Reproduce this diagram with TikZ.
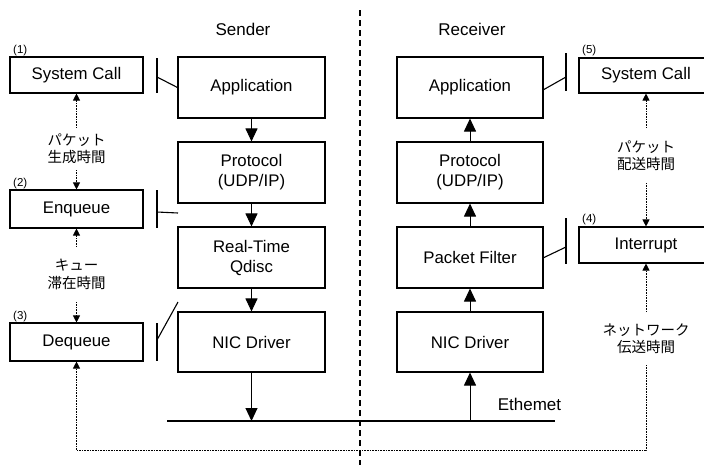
\documentclass[tikz,border=0pt]{standalone}
\usepackage{fontspec}
\setmainfont{Liberation Sans}
\newfontfamily\jpfont{Noto Sans CJK JP}
\usetikzlibrary{arrows.meta}
\begin{document}
\begin{tikzpicture}[x=1pt,y=-1pt,
  box/.style={draw, line width=1.1pt, inner sep=0pt, align=center, font=\fontsize{16.8}{20}\selectfont},
  flow/.style={line width=1pt, -{Triangle[length=13pt,width=12pt]}},
  tick/.style={line width=1.1pt},
  note/.style={inner sep=0pt, align=center, font=\jpfont\fontsize{14.5}{17.5}\selectfont},
  dotarrow/.style={line width=0.8pt, dash pattern=on 0.8pt off 0.8pt, -{Triangle[length=7pt,width=7pt]}},
  num/.style={inner sep=0pt, font=\fontsize{11.5}{12}\selectfont},
  title/.style={inner sep=0pt, font=\fontsize{17}{20}\selectfont}]
\useasboundingbox (0,0) rectangle (704,464);
\clip (0,0) rectangle (704,464);

% titles
\node[title] (sender) at (243,29) {Sender};
\node[title] (receiver) at (472,29) {Receiver};

% divider
\coordinate (dtop) at (360,10);
\coordinate (dbot) at (360,466);
\draw[line width=1.1pt, dash pattern=on 6pt off 4pt] (dtop) -- (dbot);

% left boxes
\node[box, minimum width=133pt, minimum height=36pt] (sc1) at (76.5,75) {System Call};
\node[box, minimum width=133pt, minimum height=38pt] (enq) at (76.5,209) {Enqueue};
\node[box, minimum width=133pt, minimum height=38pt] (deq) at (76.5,342) {Dequeue};
\node[num, anchor=south west] (n1) at (13,56) {(1)};
\node[num, anchor=south west] (n2) at (13,189) {(2)};
\node[num, anchor=south west] (n3) at (13,322) {(3)};

% sender column
\node[box, minimum width=147pt, minimum height=61pt] (sapp) at (251.5,87.5) {Application};
\node[box, minimum width=147pt, minimum height=61pt] (sproto) at (251.5,172.5) {Protocol\\(UDP/IP)};
\node[box, minimum width=147pt, minimum height=61pt] (sq) at (251.5,257.5) {Real-Time\\Qdisc};
\node[box, minimum width=147pt, minimum height=60pt] (snic) at (251.5,342) {NIC Driver};

% receiver column
\node[box, minimum width=146pt, minimum height=61pt] (rapp) at (470,87.5) {Application};
\node[box, minimum width=146pt, minimum height=61pt] (rproto) at (470,172.5) {Protocol\\(UDP/IP)};
\node[box, minimum width=146pt, minimum height=61pt] (rpf) at (470,257.5) {Packet Filter};
\node[box, minimum width=146pt, minimum height=60pt] (rnic) at (470,342) {NIC Driver};

% right boxes
\node[box, minimum width=134pt, minimum height=35pt] (sc5) at (646,75.5) {System Call};
\node[box, minimum width=134pt, minimum height=36pt] (intr) at (646,245) {Interrupt};
\node[num, anchor=south west] (n5) at (582,56) {(5)};
\node[num, anchor=south west] (n4) at (582,225) {(4)};

% flow arrows
\draw[flow] (sapp) -- (sproto);
\draw[flow] (sproto) -- (sq);
\draw[flow] (sq) -- (snic);
\draw[flow] (rproto) -- (rapp);
\draw[flow] (rpf) -- (rproto);
\draw[flow] (rnic) -- (rpf);

% ethernet
\coordinate (eL) at (167,421);
\coordinate (eR) at (555,421);
\draw[line width=1.3pt] (eL) -- (eR);
\node[title] (eth) at (529.5,404) {Ethemet};
\draw[flow] (snic.south) -- (snic.south |- eL);
\draw[flow] (rnic.south |- eL) -- (rnic.south);

% hook bars (sender side)
\coordinate (b1t) at (157,58); \coordinate (b1b) at (157,93); \coordinate (b1m) at (157,77);
\draw[tick] (b1t) -- (b1b);
\draw[tick] (b1m) -- (sapp.west);
\coordinate (b2t) at (157,190); \coordinate (b2b) at (157,228); \coordinate (b2m) at (157,212);
\coordinate (b2e) at (178,213);
\draw[tick] (b2t) -- (b2b);
\draw[tick] (b2m) -- (b2e);
\coordinate (b3t) at (157,323); \coordinate (b3b) at (157,361); \coordinate (b3m) at (157,340);
\coordinate (b3e) at (178,302);
\draw[tick] (b3t) -- (b3b);
\draw[tick] (b3m) -- (b3e);

% hook bars (receiver side)
\coordinate (b5t) at (566,53); \coordinate (b5b) at (566,91); \coordinate (b5m) at (566,77);
\coordinate (b5e) at (543,90);
\draw[tick] (b5t) -- (b5b);
\draw[tick] (b5e) -- (b5m);
\coordinate (b4t) at (566,218); \coordinate (b4b) at (566,264); \coordinate (b4m) at (566,247);
\coordinate (b4e) at (543,258);
\draw[tick] (b4t) -- (b4b);
\draw[tick] (b4e) -- (b4m);

% timing notes
\node[note, minimum height=42pt] (t1) at (76.5,149) {パケット\\生成時間};
\node[note, minimum height=55pt] (t2) at (76.5,274.5) {キュー\\滞在時間};
\node[note, minimum height=55pt] (t3) at (646,155.5) {パケット\\配送時間};
\node[note, minimum height=53pt] (t4) at (646,338.5) {ネットワーク\\伝送時間};

\draw[dotarrow] (t1.north) -- (sc1.south);
\draw[dotarrow] (t1.south) -- (enq.north);
\draw[dotarrow] (t2.north) -- (enq.south);
\draw[dotarrow] (t2.south) -- (deq.north);
\draw[dotarrow] (t3.north) -- (sc5.south);
\draw[dotarrow] (t3.south) -- (intr.north);
\draw[dotarrow] (t4.north) -- (intr.south);
\coordinate (cR) at (646,450);
\coordinate (cL) at (76.5,450);
\draw[dotarrow] (t4.south) -- (cR) -- (cL) -- (deq.south);
\end{tikzpicture}
\end{document}
